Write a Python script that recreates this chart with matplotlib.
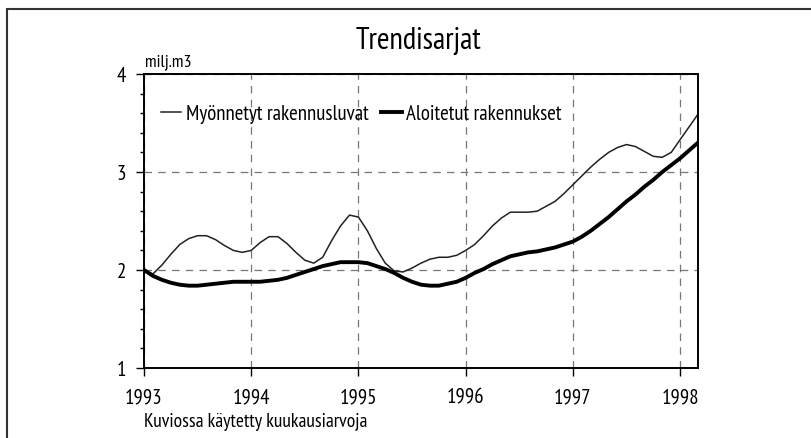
import numpy as np
import matplotlib.pyplot as plt
from matplotlib.patches import Rectangle
from matplotlib.ticker import MultipleLocator

# monthly values, Jan 1993 - Mar 1998 (milj. m3)
start_year = 1993
luvat = [2.00, 1.96, 2.05, 2.16, 2.26, 2.32, 2.35, 2.35, 2.31, 2.25, 2.20, 2.18,
         2.20, 2.28, 2.34, 2.34, 2.27, 2.18, 2.10, 2.07, 2.13, 2.30, 2.45, 2.56,
         2.54, 2.40, 2.22, 2.07, 1.99, 1.98, 2.02, 2.07, 2.11, 2.13, 2.13, 2.15,
         2.20, 2.26, 2.35, 2.45, 2.53, 2.59, 2.59, 2.59, 2.60, 2.65, 2.70, 2.78,
         2.87, 2.96, 3.05, 3.13, 3.20, 3.25, 3.28, 3.26, 3.21, 3.16, 3.15, 3.20,
         3.33, 3.46, 3.59]
aloitetut = [2.00, 1.94, 1.90, 1.87, 1.85, 1.84, 1.84, 1.85, 1.86, 1.87, 1.88, 1.88,
             1.88, 1.88, 1.89, 1.90, 1.92, 1.95, 1.98, 2.01, 2.04, 2.06, 2.08, 2.08,
             2.08, 2.07, 2.04, 2.01, 1.97, 1.92, 1.88, 1.85, 1.84, 1.84, 1.86, 1.88,
             1.92, 1.97, 2.01, 2.06, 2.10, 2.14, 2.16, 2.18, 2.19, 2.21, 2.23, 2.26,
             2.29, 2.34, 2.40, 2.47, 2.54, 2.62, 2.70, 2.77, 2.85, 2.92, 3.00, 3.07,
             3.14, 3.22, 3.30]
years = [1993, 1994, 1995, 1996, 1997, 1998]
labels = ["Myönnetyt rakennusluvat", "Aloitetut rakennukset"]

t = start_year + np.arange(len(luvat)) / 12

plt.rcParams['font.family'] = ['PT Sans Narrow', 'DejaVu Sans']

fig = plt.figure(figsize=(8.11, 4.39), dpi=100)
ax = fig.add_axes([144 / 811, 1 - 369 / 439, 554 / 811, 294 / 439])

ax.plot(t, luvat, color='#222222', lw=1.1, label=labels[0])
ax.plot(t, aloitetut, color='black', lw=2.8, label=labels[1])

ax.set_xlim(1993, t[-1])
ax.set_ylim(1, 4)
ax.set_xticks(years)
ax.set_yticks([1, 2, 3, 4])
ax.yaxis.set_minor_locator(MultipleLocator(0.2))
ax.grid(True, which='major', color='#777777', ls=(0, (6, 5)), lw=0.9)
ax.tick_params(axis='both', which='major', direction='out', length=6, width=1,
               labelsize=15)
ax.tick_params(axis='x', pad=8)
ax.tick_params(axis='y', pad=7)
ax.tick_params(axis='y', which='minor', direction='out', length=3, width=1)
for s in ax.spines.values():
    s.set_linewidth(1.4)

ax.legend(loc='upper left', bbox_to_anchor=(0.015, 0.925), ncol=2, frameon=False,
          handlelength=1.0, handletextpad=0.2, columnspacing=0.6, fontsize=15,
          borderaxespad=0)

fig.text(418 / 811, 1 - 41 / 439, "Trendisarjat", ha='center', va='center', fontsize=22)
fig.text(145 / 811, 1 - 62 / 439, "milj.m3", ha='left', va='center', fontsize=13)
fig.text(144 / 811, 1 - 422 / 439, "Kuviossa käytetty kuukausiarvoja", ha='left',
         va='center', fontsize=14)

# outer frame
fig.patches.append(Rectangle((7 / 811, -0.1), 1.1, 1 - 10 / 439 + 0.1, transform=fig.transFigure,
                             fill=False, lw=1.5, ec='#333333'))

fig.savefig("out.png", dpi=100)
